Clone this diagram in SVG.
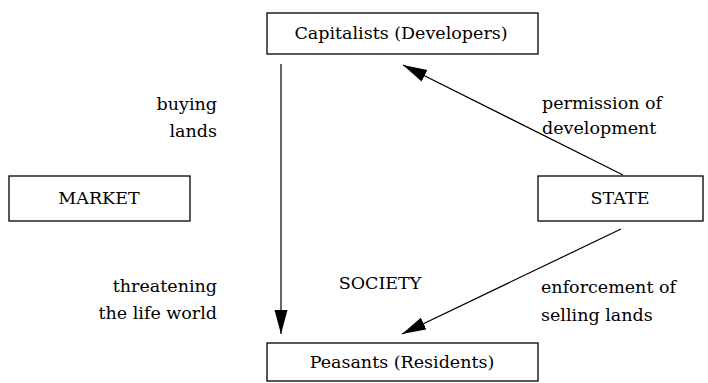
<svg xmlns="http://www.w3.org/2000/svg" width="708" height="383" viewBox="0 0 708 383">
<defs>
<marker id="ah" markerWidth="24" markerHeight="14" refX="24" refY="7" orient="auto" markerUnits="userSpaceOnUse">
<path d="M0,0.5 L24,7 L0,13.5 Z" fill="#000"/>
</marker>
<style>
.box{fill:#fff;stroke:#000;stroke-width:1.3}
text{font-family:"DejaVu Serif","Liberation Serif",serif;font-size:17.5px;fill:#000}
.c{text-anchor:middle}
.r{text-anchor:end}
.ln{stroke:#000;stroke-width:1.2;fill:none}
</style>
</defs>
<g id="capitalists"><rect class="box" x="267" y="13" width="271" height="41"/><text class="c" x="401" y="39">Capitalists (Developers)</text></g>
<g id="market"><rect class="box" x="9" y="176" width="181" height="45"/><text class="c" x="99" y="204">MARKET</text></g>
<g id="state"><rect class="box" x="538" y="176" width="165" height="45"/><text class="c" x="620" y="204">STATE</text></g>
<g id="peasants"><rect class="box" x="267" y="343" width="271" height="38"/><text class="c" x="402" y="368">Peasants (Residents)</text></g>
<g id="society"><text class="c" x="380" y="289">SOCIETY</text></g>
<g id="connectors">
<line class="ln" x1="281" y1="64" x2="281" y2="334" marker-end="url(#ah)"/>
<line class="ln" x1="623" y1="175" x2="403" y2="65" marker-end="url(#ah)"/>
<line class="ln" x1="621" y1="229" x2="402" y2="334" marker-end="url(#ah)"/>
</g>
<g id="labels">
<text class="r" x="217" y="110">buying</text>
<text class="r" x="217" y="137">lands</text>
<text class="r" x="217" y="292">threatening</text>
<text class="r" x="217" y="319">the life world</text>
<text x="542" y="109">permission of</text>
<text x="542" y="134">development</text>
<text x="541" y="293">enforcement of</text>
<text x="541" y="321">selling lands</text>
</g>
</svg>
